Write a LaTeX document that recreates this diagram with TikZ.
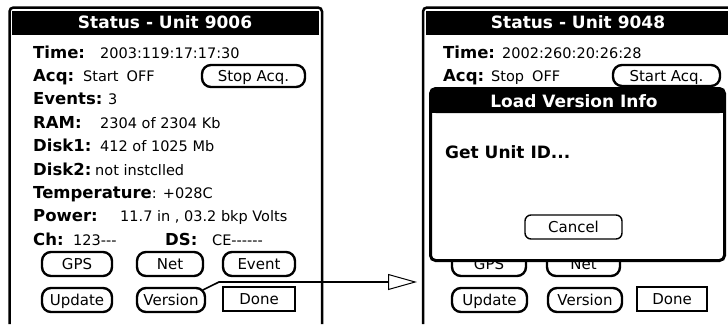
\documentclass[tikz,border=0pt]{standalone}
\usepackage{fontspec}
\setmainfont{DejaVu Sans}
\usetikzlibrary{arrows.meta}
\newcommand{\valfont}{\fontsize{14.5}{14.5}\selectfont\mdseries}
\tikzset{
 lbl/.style={anchor=base west, inner sep=0pt, font=\fontsize{16.5}{16.5}\selectfont\bfseries},
 val/.style={anchor=base west, inner sep=0pt, font=\valfont},
 ttl/.style={anchor=base, inner sep=0pt, text=white, font=\fontsize{17}{17}\selectfont\bfseries},
 btn/.style={draw, line width=2.4pt, rounded corners=9pt, fill=white, inner sep=0pt, minimum height=24pt, text height=11pt, text depth=0pt, font=\fontsize{15}{15}\selectfont},
 donebtn/.style={draw, line width=1.4pt, fill=white, inner sep=0pt, minimum height=24pt, text height=11pt, text depth=0pt, font=\fontsize{15}{15}\selectfont},
 cancelbtn/.style={btn, line width=1.4pt, rounded corners=6pt},
 frameline/.style={line width=2.5pt},
 link/.style={line width=1.6pt, -{Triangle[open, length=29pt, width=16pt, line width=1pt]}}
}
\begin{document}
\begin{tikzpicture}[x=1pt,y=-1pt]
\useasboundingbox (0,0) rectangle (728,324);
\fill[white] (0,0) rectangle (728,324);
% ---------- left screen ----------
\draw[frameline, rounded corners=4pt] (9.5,324) -- (9.5,7.5) -- (322,7.5) -- (322,324);
\fill (12,11) rectangle (319,35);
\node[ttl] (t1) at (165,28.5) {Status - Unit 9006};
\node[lbl] (l1) at (33,58) {Time:};
\node[val] (v1) at (100,58) {2003:119:17:17:30};
\node[lbl] (l2) at (33,81.4) {Acq:};
\node[val] (v2) at (83,81.4) {Start\hspace{8pt}OFF};
\node[btn, minimum width=103pt, minimum height=22pt] (stopL) at (253.5,76) {Stop Acq.};
\node[lbl] (l3) at (33,104.8) {Events:};
\node[val] (v3) at (108,104.8) {3};
\node[lbl] (l4) at (33,128.2) {RAM:};
\node[val] (v4) at (100,128.2) {2304 of 2304 Kb};
\node[lbl] (l5) at (33,151.6) {Disk1:};
\node[val] (v5) at (100,151.6) {412 of 1025 Mb};
\node[lbl] (l6) at (33,175) {Disk2:};
\node[val] (v6) at (95,175) {not instclled};
\node[lbl] (l7) at (33,198.4) {Temperature{\valfont: +028C}};
\node[lbl] (l8) at (33,221.8) {Power:};
\node[val] (v8) at (120,221.8) {11.7 in , 03.2 bkp Volts};
\node[lbl] (l9) at (33,245.2) {Ch:};
\node[val] (v9) at (73,245.2) {123{-}{-}{-}};
\node[lbl] (l10) at (165,245.2) {DS:};
\node[val] (v10) at (212,245.2) {CE{-}{-}{-}{-}{-}{-}};
\node[btn, minimum width=70pt] (gpsL) at (77,264) {GPS};
\node[btn, minimum width=66pt] (netL) at (170,264) {Net};
\node[btn, minimum width=72pt] (evL) at (259,264) {Event};
\node[btn, minimum width=70pt] (upL) at (77,300) {Update};
\node[btn, minimum width=68pt] (vL) at (171,300) {Version};
\node[donebtn, minimum width=72pt] (doneL) at (259,299) {Done};
% ---------- right screen ----------
\draw[frameline, rounded corners=4pt] (423,324) -- (423,7.5) -- (730,7.5);
\fill (426,11) rectangle (730,35);
\node[ttl] (t2) at (578,28.5) {Status - Unit 9048};
\node[lbl] (r1) at (443,58) {Time:};
\node[val] (w1) at (502,58) {2002:260:20:26:28};
\node[lbl] (r2) at (443,81.4) {Acq:};
\node[val] (w2) at (491,81.4) {Stop\hspace{8pt}OFF};
\node[btn, minimum width=107pt, minimum height=21pt] (startR) at (666.5,75.5) {Start Acq.};
\node[btn, minimum width=74pt] (gpsR) at (489,264) {GPS};
\node[btn, minimum width=73pt] (netR) at (583.5,264) {Net};
\node[btn, minimum width=75pt] (upR) at (489.5,300) {Update};
\node[btn, minimum width=74pt] (vR) at (585,300) {Version};
\node[donebtn, minimum width=70pt] (doneR) at (672,299) {Done};
% dialog
\draw[line width=3pt, fill=white, rounded corners=5pt] (430.5,88.5) rectangle (724.5,260.5);
\fill[rounded corners=5pt] (430.5,88.5) rectangle (724.5,113);
\fill (430.5,100) rectangle (724.5,113);
\node[ttl] (dt) at (574,107) {Load Version Info};
\node[lbl, font=\fontsize{17}{17}\selectfont\bfseries] (msg) at (445,158) {Get Unit ID...};
\node[cancelbtn, minimum width=97pt] (cancel) at (573.5,227) {Cancel};
% ---------- connector ----------
\coordinate (bend) at (219,282);
\coordinate (tip) at (417,282);
\draw[link] ([xshift=-3pt,yshift=-3pt]vL.north east) -- (bend) -- (tip);
\end{tikzpicture}
\end{document}
